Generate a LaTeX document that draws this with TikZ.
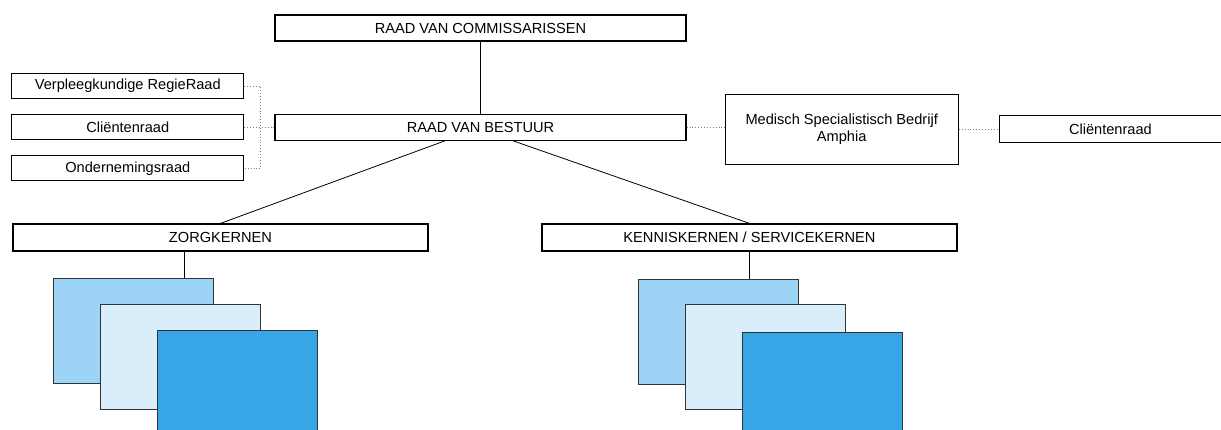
\documentclass[tikz,border=0pt]{standalone}
\usepackage{fontspec}
\setmainfont{Liberation Sans}
\usepackage{tikz}
\usetikzlibrary{positioning}

\definecolor{layerone}{HTML}{9DD3F4}
\definecolor{layertwo}{HTML}{D9EEFA}
\definecolor{layerthree}{HTML}{38A6E6}

\begin{document}
\begin{tikzpicture}[x=1pt, y=1pt,
                          font=\fontsize{14.6}{17}\selectfont,
                          boxnode/.style={rectangle, draw, line width=1.2pt, inner sep=0pt, minimum height=26pt, align=center},
                          layernode/.style={rectangle, draw=black!80, line width=0.9pt, minimum width=160pt, minimum height=105pt, anchor=north west},
                          dotline/.style={gray, dotted, line width=0.9pt},
                      ]
                      \useasboundingbox (0,0) rectangle (1221,-430);
                      % Nodes
                      \node[boxnode, minimum width=411pt]   (rvc)      at (480.5,-28)      {RAAD VAN COMMISSARISSEN};
                      \node[boxnode, minimum width=411pt]   (rvb)      [below=72pt of rvc]      {RAAD VAN BESTUUR};

                      \node[boxnode, minimum width=232pt, minimum height=25pt]   (raad_2)   [left=30pt of rvb]      {Cliëntenraad};
                      \node[boxnode, minimum width=232pt, minimum height=25pt]   (raad_1)   [above=15pt of raad_2]  {Verpleegkundige RegieRaad};
                      \node[boxnode, minimum width=232pt, minimum height=25pt]   (raad_3)   [below=15pt of raad_2]  {Ondernemingsraad};

                      \node[boxnode, minimum width=233pt, minimum height=70pt]   (amphia)   [right=38pt of rvb, yshift=-2pt]   {Medisch Specialistisch Bedrijf\\Amphia};
                      \node[boxnode, minimum width=222pt, minimum height=27pt]   (raad_4)   [right=40pt of amphia]  {Cliëntenraad};

                      \node[boxnode, minimum width=415pt, minimum height=27pt]   (zorg)     at (220.5,-237.5)   {ZORGKERNEN};
                      \node[boxnode, minimum width=415pt, minimum height=27pt]   (kennis)   at (749.5,-237.5)   {KENNISKERNEN / SERVICEKERNEN};

                      \node[layernode, fill=layerone]     (zorg_1)     [below right=26pt and 41pt of zorg.south west]   {};
                      \node[layernode, fill=layertwo]     (zorg_2)     [below right=26pt and 47pt of zorg_1.north west] {};
                      \node[layernode, fill=layerthree]   (zorg_3)     [below right=26pt and 57pt of zorg_2.north west] {};

                      \node[layernode, fill=layerone]     (kennis_1)   [below right=27pt and 97pt of kennis.south west]   {};
                      \node[layernode, fill=layertwo]     (kennis_2)   [below right=25pt and 47pt of kennis_1.north west] {};
                      \node[layernode, fill=layerthree]   (kennis_3)   [below right=28pt and 57pt of kennis_2.north west] {};

                      %Lines
                      \draw[line width=0.8pt] (rvc.south) -- (rvb.north);
                      \draw[line width=0.8pt] ([xshift=-35.5pt]rvb.south) -- (zorg.north);
                      \draw[line width=0.8pt] ([xshift=32.5pt]rvb.south) -- (kennis.north);
                      \draw[line width=0.8pt] ([xshift=-36.5pt]zorg.south) -- ([xshift=-36.5pt]zorg.south |- zorg_1.north);
                      \draw[line width=0.8pt] (kennis.south) -- (kennis.south |- kennis_1.north);

                      \draw[dotline] (raad_1.east) -- ++(16,0) |- (raad_3.east);
                      \draw[dotline] (raad_2.east) -- (rvb.west);
                      \draw[dotline] (rvb.east) -- (rvb.east -| amphia.west);
                      \draw[dotline] (amphia.east) -- (amphia.east -| raad_4.west);
                  \end{tikzpicture}
\end{document}
